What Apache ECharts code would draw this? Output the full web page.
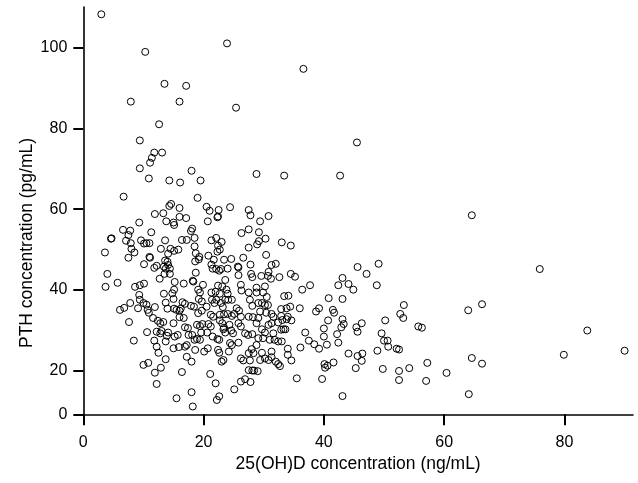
<!DOCTYPE html>
<html>
<head>
<meta charset="utf-8">
<script src="https://cdn.jsdelivr.net/npm/echarts@6/dist/echarts.min.js"></script>
<style>html,body{margin:0;padding:0;background:#fff}#c{width:638px;height:483px}</style>
</head>
<body>
<div id="c"></div>
<script>
// 25(OH)D concentration (ng/mL)
var vitD = [
3.0,10.3,23.9,36.6,13.5,17.1,7.9,16.0,25.4,12.6,9.4,45.5,11.8,13.1,11.4,11.1,9.4,18.0,28.8,33.4,
42.7,10.9,14.3,16.1,19.5,6.7,19.0,14.6,14.3,16.0,20.5,21.0,22.5,24.4,11.9,13.3,16.0,17.1,22.3,22.4,
13.8,15.0,15.1,20.7,9.3,6.6,7.8,7.5,11.3,18.1,17.9,4.6,4.7,7.1,9.6,10.1,10.5,11.0,13.6,16.4,
17.2,18.5,21.3,22.1,23.0,26.3,3.6,8.0,8.5,12.9,14.5,15.1,15.8,14.1,18.5,18.7,19.3,19.2,20.8,22.4,
22.7,22.3,7.5,11.0,11.1,13.6,14.0,18.6,21.7,23.4,24.6,26.6,10.1,11.8,12.2,13.4,13.7,14.4,14.1,21.3,
21.5,22.1,22.6,22.9,24.0,25.7,25.8,4.0,12.7,13.5,14.4,18.7,25.8,5.7,3.7,8.6,9.4,10.1,15.2,16.7,
18.2,18.3,19.9,23.6,22.4,23.1,26.2,9.3,13.4,14.8,15.1,19.4,19.1,21.3,22.0,22.7,24.0,23.8,26.3,6.1,
6.8,7.8,9.1,10.0,10.5,10.7,10.9,11.9,13.7,14.0,15.0,15.1,15.5,16.0,16.2,16.5,16.9,17.9,18.4,19.2,
19.7,19.7,19.1,20.5,21.4,21.8,22.1,22.9,23.2,23.6,24.1,24.7,25.5,25.9,26.2,21.2,21.6,22.7,23.4,24.0,
24.7,25.1,7.6,12.4,12.8,13.3,11.6,15.0,16.0,16.7,16.9,17.4,18.9,19.4,19.8,20.8,21.2,22.7,23.1,23.4,
24.3,24.6,24.9,25.8,26.2,10.6,12.2,12.8,13.0,13.9,14.1,15.2,15.7,17.5,18.1,18.5,18.9,19.4,19.6,20.6,
21.5,22.3,22.6,23.3,23.6,24.4,24.7,25.8,8.4,11.8,13.7,15.0,15.9,16.9,17.2,12.2,12.5,18.6,20.1,20.7,
22.4,22.6,24.2,17.2,18.0,13.7,10.0,10.8,12.9,11.9,16.4,23.3,23.0,21.1,22.0,26.2,26.6,26.2,25.1,12.2,
18.0,15.5,22.6,22.2,18.2,7.9,9.4,
27.5,27.8,30.8,29.4,27.5,29.2,30.3,29.2,28.9,33.0,34.5,27.5,30.4,27.8,31.3,32.0,30.8,27.9,28.1,29.6,
30.7,31.2,32.6,34.5,35.2,37.7,36.4,28.8,30.2,42.4,43.1,44.1,44.9,45.6,47.1,49.1,48.8,27.5,28.8,29.9,
30.5,40.8,43.1,33.4,34.1,27.7,28.1,29.1,29.7,30.2,30.7,32.9,33.8,34.4,36.0,38.7,39.2,41.5,41.7,53.3,
52.7,53.2,27.5,28.2,29.1,29.4,30.4,31.3,31.6,32.9,33.1,33.8,34.0,34.6,40.7,43.1,43.3,42.9,45.4,45.6,
46.3,50.2,28.8,29.7,30.2,30.8,31.3,32.4,32.9,33.3,33.6,26.9,27.4,28.1,29.1,29.9,31.0,31.6,31.8,32.4,
33.0,36.9,37.5,38.4,39.2,40.5,40.0,40.0,42.2,42.4,36.1,34.0,34.0,34.6,28.8,28.0,27.5,28.3,29.7,30.2,
30.8,31.3,31.3,32.0,32.4,32.7,29.4,27.7,27.5,28.1,28.4,29.0,26.9,27.8,35.5,39.7,40.1,40.2,40.6,41.6,
44.1,45.6,46.4,46.3,45.3,48.9,49.6,50.0,50.6,50.7,52.1,52.5,49.8,52.5,52.5,43.1,
64.6,75.9,66.3,64.0,55.7,56.3,83.8,79.9,90.0,64.6,66.3,57.2,54.2,60.4,57.0,64.1
];
// PTH concentration (pg/mL)
var pth = [
108.2,98.9,101.0,94.7,91.0,90.5,86.6,86.6,85.1,81.0,77.0,76.5,74.0,74.0,72.7,71.5,70.1,69.5,68.7,68.3,
68.3,67.6,67.1,66.6,67.1,63.1,62.8,61.3,60.8,60.3,60.6,59.6,59.8,60.5,58.8,59.0,58.1,57.8,58.0,58.2,
57.0,56.7,56.1,57.0,56.7,54.9,54.7,53.6,54.3,55.2,54.6,52.7,52.8,52.2,52.3,51.5,51.6,51.6,52.3,52.4,
52.4,52.9,52.3,52.9,51.9,54.1,49.3,50.2,49.3,50.2,50.2,49.7,50.0,49.0,50.8,49.1,48.2,47.6,48.5,51.0,
50.0,49.5,48.0,48.2,48.0,47.3,47.0,47.1,47.5,47.5,47.7,48.0,46.4,45.5,46.0,45.8,45.3,45.3,46.2,46.3,
45.3,45.2,44.8,45.2,45.3,45.8,45.6,44.0,42.8,44.0,44.0,44.3,43.7,41.8,40.8,40.8,41.2,41.6,42.0,41.6,
42.3,42.1,41.3,42.5,41.1,40.9,41.3,38.8,39.1,39.2,40.1,39.4,40.1,39.4,39.6,39.1,39.1,40.1,39.9,35.1,
35.6,36.8,35.5,36.8,36.4,35.1,34.4,35.8,36.9,35.4,37.8,35.4,35.1,34.9,35.4,37.0,36.6,36.1,35.9,37.8,
37.2,34.9,34.3,35.9,37.6,36.8,37.6,36.8,35.8,37.6,37.6,37.6,35.5,34.9,33.4,33.9,33.4,33.9,34.0,34.1,
33.6,34.1,32.1,32.4,31.8,32.1,33.1,31.8,33.3,33.1,30.8,30.6,31.4,31.1,31.6,31.6,31.0,32.5,31.8,30.7,
31.4,30.0,29.3,31.8,31.0,29.6,29.7,29.3,29.9,28.7,29.5,28.5,28.9,28.9,28.9,27.7,27.9,27.7,29.5,29.5,
28.5,27.9,27.7,30.3,29.5,26.9,26.4,27.0,27.5,27.5,27.3,25.6,25.9,26.0,26.4,26.0,24.5,25.2,24.8,25.6,
25.2,24.5,24.8,23.5,22.3,22.9,21.5,22.0,20.8,19.2,19.5,22.7,22.3,18.6,14.3,23.1,22.6,15.1,11.5,14.0,
10.2,7.4,8.3,6.6,3.6,51.6,37.6,
59.8,58.5,58.3,57.0,55.0,54.3,52.7,52.1,51.3,51.8,51.0,50.5,48.7,46.3,46.2,46.5,44.5,44.0,43.2,43.5,
43.5,42.8,43.2,44.0,43.3,41.2,40.1,40.6,40.9,41.2,43.0,41.5,40.1,45.7,44.0,46.5,41.2,39.4,39.4,39.4,
38.3,38.0,37.8,38.5,38.6,37.6,36.1,36.8,36.8,36.3,36.3,35.3,35.5,35.9,35.5,34.7,35.5,35.1,34.4,36.3,
34.1,33.1,33.4,33.3,33.1,34.7,34.4,34.1,33.4,33.6,32.6,32.8,33.4,32.5,32.5,32.8,31.6,30.8,30.8,29.7,
31.8,32.5,31.8,30.3,29.5,31.4,31.8,32.0,30.2,30.3,30.3,29.3,28.9,29.1,28.1,28.1,27.7,29.3,27.7,27.3,
27.3,29.5,27.5,26.6,25.5,26.5,28.5,30.5,29.1,27.0,25.8,25.5,24.0,22.6,26.4,25.4,24.4,24.4,24.5,23.1,
22.7,24.8,23.4,22.3,21.7,21.2,22.7,22.6,20.2,20.1,20.1,19.9,16.2,14.9,16.6,16.3,21.7,20.8,21.3,22.1,
24.3,23.7,24.3,22.5,20.7,25.0,29.3,27.5,27.5,26.0,25.5,25.3,20.5,20.0,15.8,8.4,
58.5,45.2,36.5,35.0,31.0,30.7,30.0,24.0,25.0,23.2,21.8,22.0,20.7,19.1,15.4,9.3
];
var xTicks = [0, 20, 40, 60, 80];
var yTicks = [0, 20, 40, 60, 80, 100];

// The reference y axis is two-segment: 0-20 is drawn compressed, 20-110 linear.
var SEG = 20, K = 0.536;
function disp(v) { return v >= SEG ? v : SEG - (SEG - v) * K; }
function undisp(d) { return d >= SEG ? d : SEG - (SEG - d) / K; }

var pts = [];
for (var i = 0; i < vitD.length && i < pth.length; i++) pts.push([vitD[i], disp(pth[i])]);

var chart = echarts.init(document.getElementById('c'), null, {renderer: 'canvas'});
var font = 'Liberation Sans, Arial, Helvetica, sans-serif';
chart.setOption({
  animation: false,
  backgroundColor: '#fff',
  grid: {left: 83.3, right: 5, top: 7, bottom: 68.7, containLabel: false, outerBoundsMode: 'none'},
  xAxis: {
    type: 'value', min: 0, max: 91.4,
    name: '25(OH)D concentration (ng/mL)', nameLocation: 'middle', nameGap: 39,
    nameTextStyle: {fontSize: 17.5, color: '#000', fontFamily: font},
    axisLine: {onZero: false, lineStyle: {color: '#000', width: 1.6}},
    axisTick: {customValues: xTicks, length: 11, lineStyle: {color: '#000', width: 2}},
    axisLabel: {customValues: xTicks, margin: 20, fontSize: 16, color: '#000', fontFamily: font},
    splitLine: {show: false}
  },
  yAxis: {
    type: 'value', min: disp(0), max: 110,
    axisLine: {onZero: false, lineStyle: {color: '#000', width: 1.6}},
    axisTick: {customValues: yTicks.map(disp), length: 10, lineStyle: {color: '#000', width: 2}},
    axisLabel: {customValues: yTicks.map(disp), margin: 16, fontSize: 16, color: '#000', fontFamily: font,
      formatter: function (v) { return String(Math.round(undisp(v))); }},
    splitLine: {show: false}
  },
  graphic: [{
    type: 'text', x: 27, y: 243, rotation: Math.PI / 2,
    style: {text: 'PTH concentration (pg/mL)', fontSize: 17.5, fontFamily: font, fill: '#000',
      align: 'center', verticalAlign: 'middle'}
  }],
  series: [{
    type: 'scatter', data: pts, symbol: 'circle', symbolSize: 7,
    itemStyle: {color: 'rgba(0,0,0,0)', borderColor: '#000', borderWidth: 1, opacity: 1},
    emphasis: {disabled: true}, silent: true
  }]
});
</script>
</body>
</html>
